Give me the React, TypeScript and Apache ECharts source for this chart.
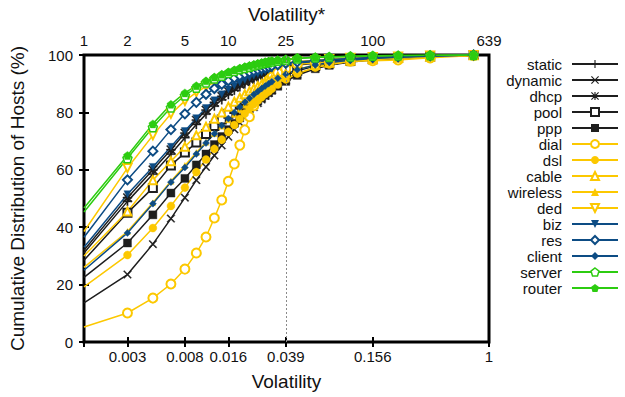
import React, { useEffect, useRef } from "react";
import * as echarts from "echarts";

// Volatility* (count) values at which the CDFs are sampled
const VOL = [1, 2, 3, 4, 5, 6, 7, 8, 9, 10, 11, 12, 13, 14, 15, 16, 17, 18, 19, 20, 22, 25, 30, 40, 50, 70, 100, 150, 250, 500];

const staticV = [31, 49, 58.5, 65.5, 71.2, 75.8, 79.4, 82.2, 84.4, 86.2, 87.7, 88.9, 89.9, 90.8, 91.5, 92.2, 92.8, 93.3, 93.8, 94.2, 94.9, 95.7, 96.5, 97.1, 97.7, 98.2, 98.7, 99.1, 99.5, 99.9];
const dynamicV = [13.6, 23.5, 34.1, 43, 50.3, 56.4, 61, 65, 68.5, 71.5, 74.1, 76.4, 78.4, 80.2, 81.8, 83.2, 84.5, 85.7, 86.7, 87.7, 89.3, 91.2, 93.3, 95.5, 96.6, 97.7, 98.4, 98.9, 99.4, 99.9];
const dhcpV = [32, 50.3, 60, 67, 72.8, 77.3, 80.8, 83.5, 85.6, 87.3, 88.7, 89.8, 90.7, 91.5, 92.2, 92.8, 93.4, 93.9, 94.3, 94.7, 95.3, 96, 96.8, 97.4, 97.9, 98.4, 98.8, 99.2, 99.6, 100];
const poolV = [28.5, 45, 53.7, 61.5, 66, 69.5, 72.5, 75.3, 77.5, 79.5, 81.2, 82.7, 84, 85.2, 86.2, 87.1, 87.9, 88.6, 89.3, 89.9, 91.2, 92.8, 94.5, 96.2, 97.1, 97.9, 98.5, 99, 99.5, 100];
const pppV = [22.5, 34.5, 44.3, 51.9, 57, 61.7, 65.5, 68.8, 71.6, 74, 76.2, 78.1, 79.8, 81.3, 82.7, 83.9, 85, 86, 86.9, 87.7, 89.1, 90.8, 92.9, 95.2, 96.4, 97.6, 98.3, 98.9, 99.4, 99.9];
const dialV = [5.2, 10.1, 15.3, 20.2, 25.4, 31, 36.6, 43.2, 49.5, 56, 62, 68.6, 73.9, 78.5, 82.3, 85.5, 88, 89.8, 91.2, 92.3, 93.8, 95.2, 96.8, 97.3, 97.6, 97.8, 98, 98.3, 99, 99.8];
const dslV = [19.2, 30.3, 39.7, 47.4, 53.8, 59.2, 63.6, 67.3, 70.5, 73.2, 75.6, 77.7, 79.6, 81.3, 82.8, 84.1, 85.3, 86.4, 87.3, 88.2, 89.7, 91.5, 93.5, 95.6, 96.7, 97.8, 98.4, 98.9, 99.4, 99.9];
const cableV = [30, 45.5, 56.4, 63, 68, 72, 75, 77.8, 80, 82, 83.7, 85.1, 86.3, 87.4, 88.3, 89.1, 89.8, 90.4, 91, 91.5, 92.4, 93.6, 95, 96.5, 97.3, 98, 98.6, 99, 99.5, 99.9];
const wirelessV = [26, 38.5, 48.5, 56, 61.5, 66, 69.6, 72.6, 75.2, 77.4, 79.3, 81, 82.5, 83.8, 85, 86, 86.9, 87.7, 88.4, 89.1, 90.3, 91.8, 93.6, 95.6, 96.7, 97.8, 98.5, 99, 99.5, 99.9];
const dedV = [38.5, 60.6, 72, 79.5, 84, 87, 89, 90.5, 91.7, 92.6, 93.3, 93.9, 94.4, 94.8, 95.2, 95.5, 95.8, 96, 96.2, 96.4, 96.8, 97.2, 97.7, 98.2, 98.6, 99, 99.3, 99.5, 99.8, 100];
const bizV = [33, 51.5, 61, 68, 73.5, 78, 81.5, 84.2, 86.3, 88, 89.3, 90.4, 91.3, 92.1, 92.8, 93.4, 93.9, 94.4, 94.8, 95.2, 95.8, 96.5, 97.2, 97.7, 98.2, 98.6, 99, 99.3, 99.7, 100];
const resV = [36.5, 56.5, 66.5, 74, 79.5, 83.5, 86.3, 88.3, 89.8, 91, 92, 92.8, 93.4, 94, 94.5, 94.9, 95.3, 95.6, 95.9, 96.2, 96.6, 97.1, 97.6, 98.1, 98.4, 98.8, 99.1, 99.4, 99.7, 100];
const clientV = [25, 38, 48.2, 55.7, 60.8, 65.5, 69.3, 72.6, 75.4, 77.9, 80, 81.9, 83.5, 84.9, 86.2, 87.3, 88.3, 89.2, 90, 90.7, 91.9, 93.3, 94.9, 96.5, 97.4, 98.2, 98.8, 99.2, 99.6, 100];
const serverV = [45.3, 64, 74.8, 81.7, 85.9, 88.6, 90.4, 91.8, 92.8, 93.7, 94.4, 95, 95.5, 95.9, 96.3, 96.7, 97, 97.3, 97.5, 97.7, 98, 98.3, 98.8, 99.1, 99.3, 99.5, 99.7, 99.8, 99.9, 100];
const routerV = [46.7, 65, 76, 82.8, 86.8, 89.3, 91, 92.3, 93.3, 94.1, 94.8, 95.4, 95.9, 96.3, 96.7, 97, 97.3, 97.5, 97.7, 97.9, 98.2, 98.5, 98.9, 99.2, 99.4, 99.6, 99.75, 99.85, 99.95, 100];

// Axis ticks
const VOL_MAX = 639;
const BOTTOM_TICKS = [2, 5, 10, 25, 100, 639];
const BOTTOM_LABELS = ["0.003", "0.008", "0.016", "0.039", "0.156", "1"];
const TOP_TICKS = [1, 2, 5, 10, 25, 100, 639];
const TOP_LABELS = ["1", "2", "5", "10", "25", "100", "639"];
const MARK_VOL = 25;

const BLACK = "#1e1e1e";
const YELLOW = "#fcc800";
const BLUE = "#0d4c84";
const GREEN = "#2ccc10";

const PLUS = "path://M4.3,0H5.7V4.3H10V5.7H5.7V10H4.3V5.7H0V4.3H4.3Z";
const CROSS = "path://M0,1L1,0L5,4L9,0L10,1L6,5L10,9L9,10L5,6L1,10L0,9L4,5Z";
const STAR = "path://M4.3,0H5.7V4.3H10V5.7H5.7V10H4.3V5.7H0V4.3H4.3Z M0,1L1,0L5,4L9,0L10,1L6,5L10,9L9,10L5,6L1,10L0,9L4,5Z";
const PENT = "path://M50,0L97.55,34.55L79.39,90.45L20.61,90.45L2.45,34.55Z";

const SERIES = [
  { name: "static", values: staticV, color: BLACK, symbol: PLUS, size: 9 },
  { name: "dynamic", values: dynamicV, color: BLACK, symbol: CROSS, size: 8 },
  { name: "dhcp", values: dhcpV, color: BLACK, symbol: STAR, size: 9 },
  { name: "pool", values: poolV, color: BLACK, symbol: "emptyRect", size: 8 },
  { name: "ppp", values: pppV, color: BLACK, symbol: "rect", size: 8 },
  { name: "dial", values: dialV, color: YELLOW, symbol: "emptyCircle", size: 9 },
  { name: "dsl", values: dslV, color: YELLOW, symbol: "circle", size: 8 },
  { name: "cable", values: cableV, color: YELLOW, symbol: "emptyTriangle", size: 8 },
  { name: "wireless", values: wirelessV, color: YELLOW, symbol: "triangle", size: 6 },
  { name: "ded", values: dedV, color: YELLOW, symbol: "emptyTriangle", size: 8, rotate: 180 },
  { name: "biz", values: bizV, color: BLUE, symbol: "triangle", size: 7, rotate: 180 },
  { name: "res", values: resV, color: BLUE, symbol: "emptyDiamond", size: 9 },
  { name: "client", values: clientV, color: BLUE, symbol: "diamond", size: 7 },
  { name: "server", values: serverV, color: GREEN, symbol: PENT, size: 9, open: true },
  { name: "router", values: routerV, color: GREEN, symbol: PENT, size: 8 },
];

const FONT = "Liberation Sans, Arial, sans-serif";
const lg = (v: number) => Math.log10(v);

function nearestLabel(val: number, ticks: number[], labels: string[]) {
  let best = 0;
  let bd = Infinity;
  ticks.forEach((t, i) => {
    const d = Math.abs(lg(t) - val);
    if (d < bd) {
      bd = d;
      best = i;
    }
  });
  return labels[best];
}

export default function App() {
  const ref = useRef<HTMLDivElement>(null);
  useEffect(() => {
    if (!ref.current) return;
    const chart = echarts.init(ref.current, null, { renderer: "svg" });
    const xMax = lg(VOL_MAX);
    const series: any[] = SERIES.map((s: any, si) => {
      const isEmpty = s.symbol.startsWith("empty");
      const itemStyle = s.open
        ? { color: "#ffffff", borderColor: s.color, borderWidth: 1.5 }
        : { color: s.color, borderColor: s.color, borderWidth: isEmpty ? 1.5 : 0.4 };
      return {
        type: "line",
        name: s.name,
        xAxisIndex: 0,
        yAxisIndex: 0,
        symbol: s.symbol,
        symbolSize: s.size,
        symbolRotate: s.rotate || 0,
        showAllSymbol: true,
        clip: true,
        lineStyle: { color: s.color, width: 1.5 },
        itemStyle,
        emphasis: { disabled: true },
        data: VOL.map((v, i) =>
          i === 0 ? { value: [lg(v), s.values[i]], symbol: "none" } : [lg(v), s.values[i]]
        ),
        markLine:
          si === 0
            ? {
                silent: true,
                symbol: "none",
                label: { show: false },
                lineStyle: { color: "#8a8a8a", type: [2, 2], width: 1 },
                data: [{ xAxis: lg(MARK_VOL) }],
              }
            : undefined,
      };
    });

    chart.setOption({
      animation: false,
      backgroundColor: "#ffffff",
      grid: {
        left: 84,
        right: 136,
        top: 55,
        bottom: 55,
        show: true,
        borderColor: "#000",
        borderWidth: 3,
        backgroundColor: "transparent",
      },
      legend: {
        orient: "vertical",
        right: 6,
        top: 56,
        padding: 0,
        itemGap: 0,
        itemWidth: 46,
        itemHeight: 10,
        align: "right",
        selectedMode: false,
        formatter: (name: string) => `{n|${name}}`,
        textStyle: {
          color: "#111",
          fontFamily: FONT,
          fontSize: 15,
          lineHeight: 16,
          rich: { n: { fontFamily: FONT, fontSize: 15, lineHeight: 16, padding: [0, 5, 0, 0], color: "#111" } },
        },
        data: SERIES.map((s: any) =>
          s.open
            ? { name: s.name, itemStyle: { color: "#ffffff", borderColor: s.color, borderWidth: 1.5 } }
            : s.symbol.startsWith("empty")
            ? { name: s.name }
            : { name: s.name, itemStyle: { color: s.color, borderWidth: 0 } }
        ),
      },
      xAxis: [
        {
          type: "value",
          position: "bottom",
          min: 0,
          max: xMax,
          name: "Volatility",
          nameLocation: "middle",
          nameGap: 30,
          nameTextStyle: { fontFamily: FONT, fontSize: 19, color: "#111" },
          axisLine: { show: false },
          splitLine: { show: false },
          axisTick: {
            show: true,
            inside: true,
            length: 5,
            lineStyle: { color: "#000", width: 2 },
            customValues: BOTTOM_TICKS.map(lg),
          },
          axisLabel: {
            fontFamily: FONT,
            fontSize: 15,
            color: "#111",
            margin: 7,
            customValues: BOTTOM_TICKS.map(lg),
            formatter: (v: number) => nearestLabel(v, BOTTOM_TICKS, BOTTOM_LABELS),
          },
        },
        {
          type: "value",
          position: "top",
          min: 0,
          max: xMax,
          name: "Volatility*",
          nameLocation: "middle",
          nameGap: 31,
          nameTextStyle: { fontFamily: FONT, fontSize: 19, color: "#111" },
          axisLine: { show: false },
          splitLine: { show: false },
          axisTick: {
            show: true,
            inside: true,
            length: 5,
            lineStyle: { color: "#000", width: 2 },
            customValues: TOP_TICKS.map(lg),
          },
          axisLabel: {
            fontFamily: FONT,
            fontSize: 15,
            color: "#111",
            margin: 7,
            customValues: TOP_TICKS.map(lg),
            formatter: (v: number) => nearestLabel(v, TOP_TICKS, TOP_LABELS),
          },
        },
      ],
      yAxis: [
        {
          type: "value",
          position: "left",
          min: 0,
          max: 100,
          interval: 20,
          name: "Cumulative Distribution of Hosts (%)",
          nameLocation: "middle",
          nameGap: 57,
          nameRotate: 90,
          nameTextStyle: { fontFamily: FONT, fontSize: 19, color: "#111" },
          axisLine: { show: false },
          splitLine: { show: false },
          axisTick: { show: true, inside: true, length: 5, lineStyle: { color: "#000", width: 2 } },
          axisLabel: { fontFamily: FONT, fontSize: 15, color: "#111", margin: 11 },
        },
        {
          type: "value",
          position: "right",
          min: 0,
          max: 100,
          interval: 20,
          axisLine: { show: false },
          splitLine: { show: false },
          axisTick: { show: true, inside: true, length: 5, lineStyle: { color: "#000", width: 2 } },
          axisLabel: { show: false },
        },
      ],
      series,
    });
    return () => chart.dispose();
  }, []);
  return <div ref={ref} style={{ width: 625, height: 397, position: "absolute", left: 0, top: 0 }} />;
}
